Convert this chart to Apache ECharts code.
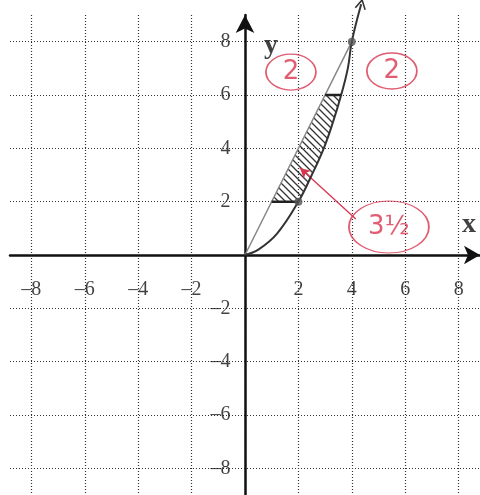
<!DOCTYPE html>
<html><head><meta charset="utf-8">
<script src="https://cdn.jsdelivr.net/npm/echarts@6/dist/echarts.min.js"></script>
<style>html,body{margin:0;padding:0;background:#fff}#c{width:480px;height:495px}</style>
</head><body><div id="c"></div>
<script>
// ---- data ----
const xTicks = [-8, -6, -4, -2, 0, 2, 4, 6, 8];
const yTicks = [-8, -6, -4, -2, 0, 2, 4, 6, 8];
const xLabels = [-8, -6, -4, -2, 2, 4, 6, 8];
const yLabels = [-8, -6, -4, -2, 2, 4, 6, 8];
const curvePoints = [[0,0],[0.5,0.2],[1.2,0.8],[2,2],[2.5,3],[2.95,4],[3.3,5],[3.6,6],[3.85,7],[4,8],[4.35,9.4]];
const linePoints = [[0,0],[4,8]];
const shadedRegion = [[1,2],[3,6],[3.6,6],[3.3,5],[2.95,4],[2.5,3],[2,2]];
const stepLow = [[1,2],[2,2]];
const stepHigh = [[3,6],[3.6,6]];
const markedPoints = [[2,2],[4,8]];
const annotationText = ['2', '2', '3½'];
const annotationPos = [[1.72,6.86],[5.5,6.9],[5.39,1.05]];
const arrowFrom = [4.15, 1.35];
const arrowTo = [2.06, 3.26];
const axisNames = ['x', 'y'];
const axisNamePos = [[8.39,1.12],[0.97,7.84]];

const RED = '#d8354f';
const chart = echarts.init(document.getElementById('c'));

// hatch pattern
const pc = document.createElement('canvas');
pc.width = 7; pc.height = 7;
const pctx = pc.getContext('2d');
pctx.strokeStyle = '#333'; pctx.lineWidth = 1.3;
pctx.beginPath();
pctx.moveTo(0,0); pctx.lineTo(7,7);
pctx.moveTo(-1,6); pctx.lineTo(1,8);
pctx.moveTo(6,-1); pctx.lineTo(8,1);
pctx.stroke();

const serif = 'Liberation Serif, DejaVu Serif, serif';
const gridLine = {show:true, lineStyle:{type:[1,2], color:'#333', width:1.2}};
const fmt = v => v < 0 ? '\u2013' + (-v) : '' + v;
const tickLabelStyle = {fontFamily:serif, fontSize:20, color:'#111'};

chart.setOption({
  animation:false,
  backgroundColor:'#fff',
  grid:{left:10, right:0, top:15, bottom:0, outerBoundsMode:'none', containLabel:false},
  xAxis:{type:'value', min:-8.8, max:8.8,
    axisLine:{onZero:true, lineStyle:{color:'#111', width:2.5}, symbol:['none','arrow'], symbolSize:[14,16]},
    axisTick:{show:false, customValues:xTicks},
    axisLabel:{show:false, customValues:xLabels},
    splitLine:gridLine},
  yAxis:{type:'value', min:-9, max:9,
    axisLine:{onZero:true, lineStyle:{color:'#111', width:2.5}, symbol:['none','arrow'], symbolSize:[14,18]},
    axisTick:{show:false, customValues:yTicks},
    axisLabel:{show:false, customValues:yLabels},
    splitLine:gridLine},
  series:[
    {type:'custom', clip:false, data:[[0,0]], z:3,
     renderItem:(params, api) => ({type:'polygon', shape:{points:shadedRegion.map(p => api.coord(p))},
        style:{fill:{image:pc, repeat:'repeat'}, stroke:null}})},
    {type:'line', data:linePoints, symbol:'none', lineStyle:{color:'#888', width:1.5}, z:4},
    {type:'line', data:curvePoints.map((p,i) => i === curvePoints.length-1 ?
        {value:p, symbol:'path://M0,10 L5,0 L10,10', symbolSize:[10,9], symbolRotate:-12, itemStyle:{color:'none', borderColor:'#333', borderWidth:1.5}} :
        {value:p, symbol:'none'}),
     smooth:0.4, clip:false, lineStyle:{color:'#333', width:2}, z:5},
    {type:'line', data:stepLow, symbol:'none', lineStyle:{color:'#222', width:2.5}, z:5},
    {type:'line', data:stepHigh, symbol:'none', lineStyle:{color:'#222', width:2.5}, z:5},
    {type:'scatter', data:markedPoints, symbolSize:8, itemStyle:{color:'#555'}, z:6},
    // x tick labels
    {type:'scatter', z:6, clip:false, symbolSize:1, itemStyle:{color:'rgba(0,0,0,0)'},
     data:xLabels.map(v => [v, 0]),
     label:Object.assign({show:true, position:'inside', offset:[0,35], formatter:p => fmt(p.value[0])}, tickLabelStyle)},
    // y tick labels
    {type:'scatter', z:6, clip:false, symbolSize:1, itemStyle:{color:'rgba(0,0,0,0)'},
     data:yLabels.map(v => [0, v]),
     label:Object.assign({show:true, position:'left', distance:14, formatter:p => fmt(p.value[1])}, tickLabelStyle)},
    {type:'scatter', z:7, clip:false,
     data:annotationText.map((t,i) => ({name:t, value:annotationPos[i], symbolSize: i===2 ? [80,52] : [50,36]})),
     itemStyle:{color:'rgba(0,0,0,0)', borderColor:RED, borderWidth:1.5},
     label:{show:true, position:'inside', formatter:p => p.name, color:RED, fontSize:26, fontFamily:'DejaVu Sans'},
     markLine:{silent:true, symbol:['none','arrow'], symbolSize:[8,10],
       lineStyle:{color:RED, width:1.3, type:'solid'}, label:{show:false},
       data:[[{coord:arrowFrom},{coord:arrowTo}]]}},
    {type:'scatter', z:8, clip:false, symbolSize:1, itemStyle:{color:'rgba(0,0,0,0)'},
     data:axisNames.map((t,i) => ({name:t, value:axisNamePos[i]})),
     label:{show:true, position:'inside', formatter:p => p.name, color:'#111', fontSize:28, fontWeight:'bold', fontFamily:serif}}
  ]
});
</script></body></html>
